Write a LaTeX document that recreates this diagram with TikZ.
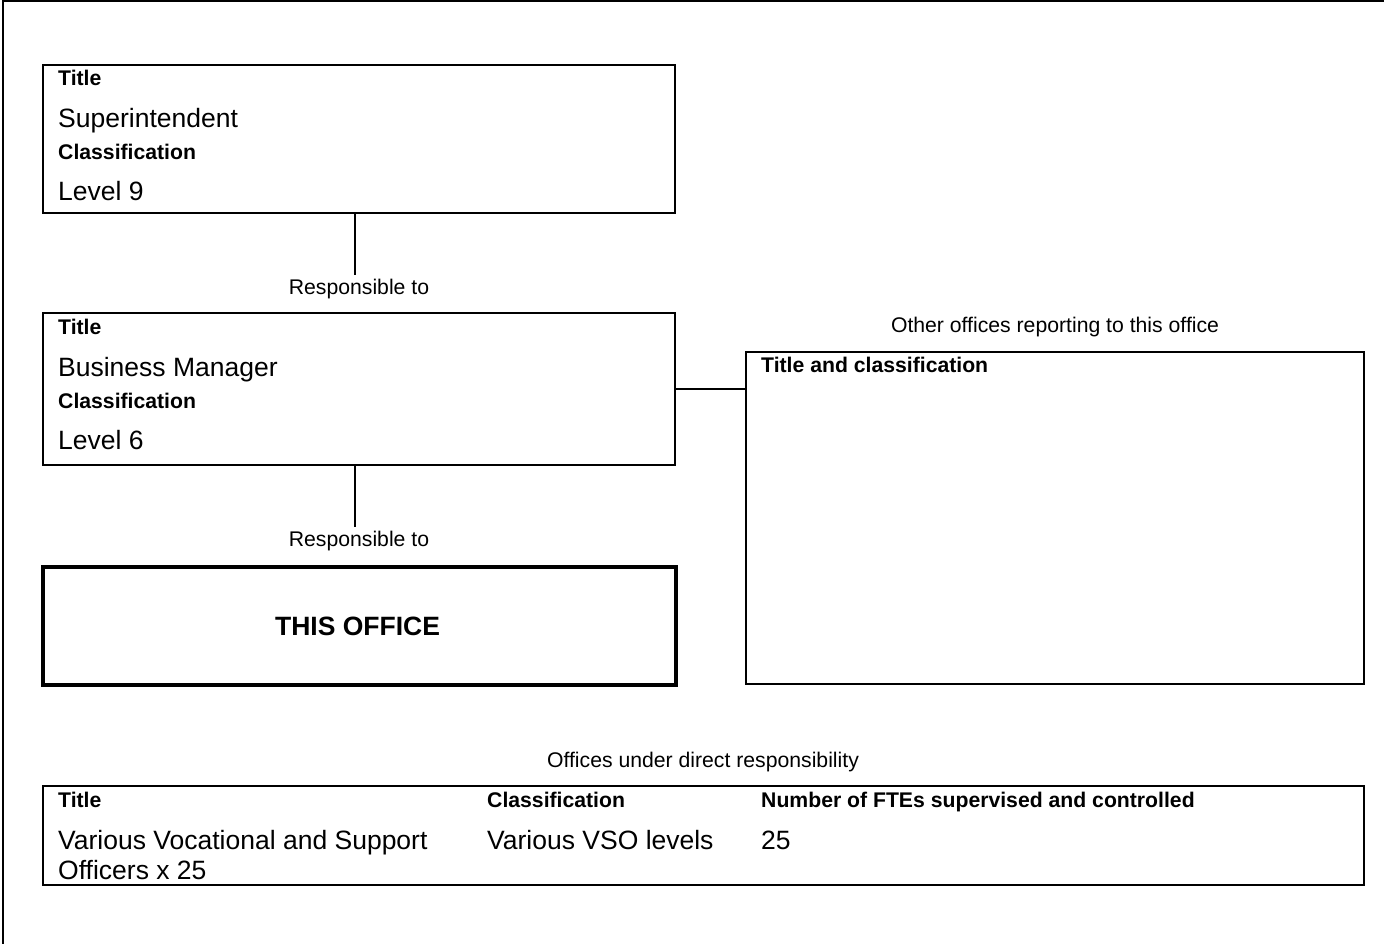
\documentclass[tikz,border=0pt]{standalone}
\usepackage{fontspec}
\setmainfont{Liberation Sans}
\usetikzlibrary{positioning}

\begin{document}
\begin{tikzpicture}[x=1pt,y=-1pt,
    box/.style={draw,line width=2pt,inner sep=0pt,outer sep=0pt,anchor=north west},
    small/.style={font=\fontsize{21.2}{25}\selectfont,inner sep=0pt},
    head/.style={font=\fontsize{21.2}{25}\selectfont\bfseries,inner sep=0pt,anchor=base west},
    entry/.style={font=\fontsize{26.5}{30}\selectfont,inner sep=0pt,anchor=base west},
    link/.style={line width=2pt}]
      \useasboundingbox (0,0) rectangle (1384,944);
      \draw[line width=2pt] (3,944) -- (3,1) -- (1384,1);

      % boxes
      \node[box,minimum width=632pt,minimum height=148pt] (sup) at (43,65) {};
      \node[box,minimum width=632pt,minimum height=152pt] (mgr) at (43,313) {};
      \node[box,line width=4pt,minimum width=633pt,minimum height=118pt] (office) at (43,567) {};
      \node[box,minimum width=618pt,minimum height=332pt] (other) at (746,352) {};
      \node[box,minimum width=1321pt,minimum height=99pt] (staff) at (43,786) {};

      % box contents
      \foreach \name/\y/\title/\class in {supt/65/Superintendent/Level 9,mgrt/313/Business Manager/Level 6} {
        \node[head] (\name-h1) at (58,\y+21) {Title};
        \node[entry] (\name-title) at (58,\y+63) {\title};
        \node[head] (\name-h2) at (58,\y+95) {Classification};
        \node[entry] (\name-class) at (58,\y+136) {\class};
      }
      \node[font=\fontsize{26.5}{30}\selectfont\bfseries,inner sep=0pt] (officename) at ([xshift=-2pt]office) {THIS OFFICE};
      \node[head] (otherhead) at (761,372) {Title and classification};

      % captions
      \node[small] (resp1) at (359,289) {Responsible to};
      \node[small] (resp2) at (359,541) {Responsible to};
      \node[small] (othercap) at (1055,327) {Other offices reporting to this office};
      \node[small] (staffcap) at (703,762) {Offices under direct responsibility};

      % table
      \foreach[count=\i] \x/\txt in {58/Title,487/Classification,761/Number of FTEs supervised and controlled} {
        \node[head] (col\i) at (\x,807) {\txt};
      }
      \node[entry] (row1a) at (58,849) {Various Vocational and Support};
      \node[entry] (row1b) at (58,879) {Officers x 25};
      \node[entry] (row2) at (487,849) {Various VSO levels};
      \node[entry] (row3) at (761,849) {25};

      % connectors
      \draw[link] ([xshift=-4pt]sup.south) -- ([xshift=-4pt,yshift=4pt]sup.south |- resp1.north);
      \draw[link] ([xshift=-4pt]mgr.south) -- ([xshift=-4pt,yshift=4pt]mgr.south |- resp2.north);
      \draw[link] (mgr.east) -- (mgr.east -| other.west);
    \end{tikzpicture}
\end{document}
